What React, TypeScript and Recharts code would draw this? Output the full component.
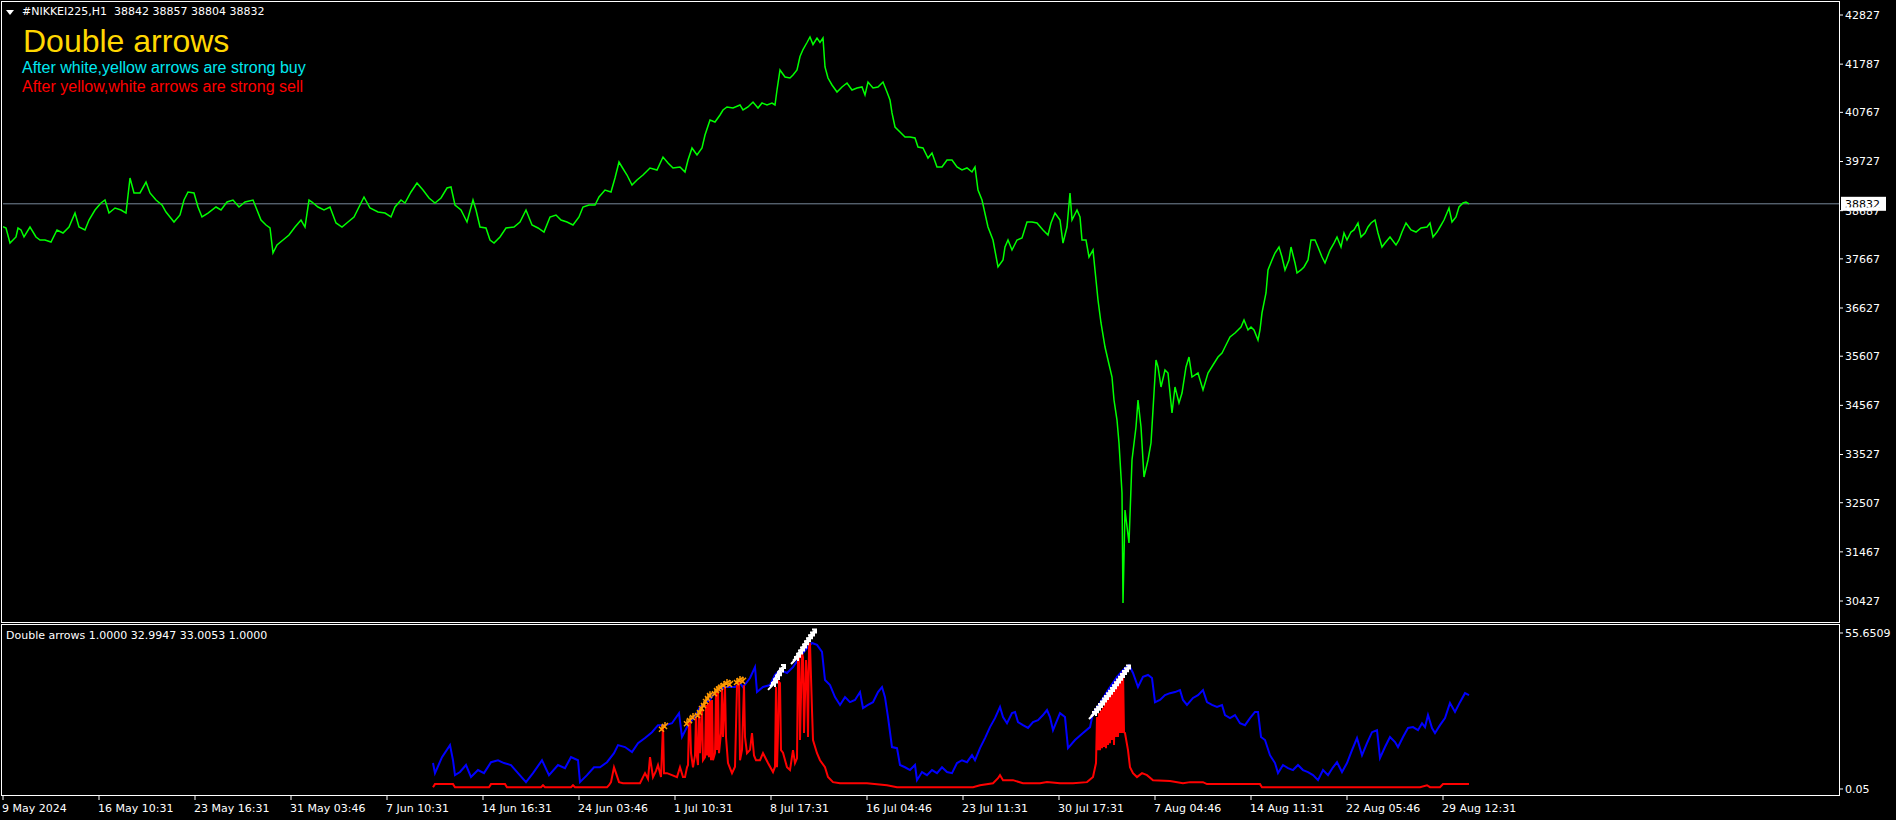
import React from 'react';
import { ComposedChart, LineChart, Line, Scatter, XAxis, YAxis, ReferenceLine } from 'recharts';

// bar index (H1) of each date label on the bottom axis
const dateTicks = [0, 96, 192, 288, 384, 480, 576, 672, 768, 864, 960, 1056, 1152, 1248, 1344, 1440];
const dateLabels = [
  '9 May 2024', '16 May 10:31', '23 May 16:31', '31 May 03:46', '7 Jun 10:31', '14 Jun 16:31',
  '24 Jun 03:46', '1 Jul 10:31', '8 Jul 17:31', '16 Jul 04:46', '23 Jul 11:31', '30 Jul 17:31',
  '7 Aug 04:46', '14 Aug 11:31', '22 Aug 05:46', '29 Aug 12:31',
];
const priceTicks = [42827, 41787, 40767, 39727, 38687, 37667, 36627, 35607, 34567, 33527, 32507, 31467, 30427];
const lastPrice = 38832;
const indTicks = [0.05, 55.6509];

// close price, [bar, price]
const pricePoints: [number, number][] = [
  [0, 38347], [3, 38320], [7, 38002], [13, 38130], [15, 38320], [18, 38278], [21, 38130], [27, 38341], [33, 38130],
  [37, 38066], [42, 38066], [48, 38024], [54, 38278], [60, 38214], [66, 38341], [72, 38637], [76, 38341], [82, 38278],
  [86, 38489], [92, 38701], [98, 38849], [102, 38912], [106, 38637], [112, 38743], [118, 38701], [123, 38637],
  [127, 39378], [131, 39061], [137, 39061], [143, 39293], [147, 39061], [153, 38912], [159, 38807], [163, 38658],
  [171, 38447], [177, 38595], [181, 38912], [185, 39082], [191, 39061], [195, 38764], [199, 38553], [205, 38637],
  [213, 38764], [218, 38701], [224, 38870], [230, 38912], [236, 38764], [242, 38870], [250, 38912], [254, 38701],
  [258, 38489], [263, 38383], [267, 38320], [270, 37791], [274, 37960], [280, 38066], [286, 38172], [292, 38341],
  [298, 38489], [302, 38341], [306, 38912], [309, 38870], [315, 38764], [321, 38701], [327, 38764], [333, 38426],
  [339, 38341], [345, 38447], [351, 38553], [357, 38807], [361, 38976], [367, 38743], [375, 38658], [382, 38637],
  [388, 38553], [392, 38764], [398, 38912], [402, 38849], [408, 39082], [414, 39272], [420, 39124], [426, 38955],
  [432, 38849], [438, 38955], [444, 39166], [448, 39187], [452, 38807], [458, 38701], [464, 38447], [470, 38912],
  [473, 38701], [477, 38341], [483, 38320], [487, 38066], [491, 38002], [497, 38130], [503, 38320], [511, 38341],
  [517, 38447], [523, 38701], [529, 38383], [535, 38320], [541, 38235], [547, 38553], [553, 38595], [558, 38489],
  [564, 38447], [570, 38383], [576, 38553], [580, 38764], [586, 38807], [592, 38807], [596, 38976], [602, 39124],
  [608, 39082], [612, 39378], [616, 39716], [619, 39611], [624, 39441], [629, 39230], [634, 39336], [640, 39441],
  [647, 39590], [654, 39547], [660, 39822], [665, 39695], [670, 39590], [677, 39611], [682, 39505], [685, 39758],
  [689, 40013], [694, 39865], [699, 40013], [702, 40288], [707, 40605], [712, 40563], [717, 40711], [720, 40817],
  [724, 40880], [730, 40859], [737, 40923], [740, 40817], [745, 40880], [750, 40986], [755, 40859], [759, 40965],
  [764, 40923], [769, 40965], [772, 40923], [774, 41240], [777, 41664], [782, 41515], [787, 41494], [790, 41557],
  [794, 41664], [797, 41949], [800, 42097], [804, 42245], [807, 42362], [810, 42203], [814, 42340], [817, 42245],
  [820, 42340], [822, 41727], [825, 41494], [829, 41346], [834, 41198], [839, 41304], [844, 41388], [849, 41240],
  [854, 41283], [859, 41304], [862, 41134], [865, 41409], [870, 41283], [875, 41304], [880, 41409], [884, 41198],
  [887, 41028], [889, 40754], [892, 40457], [897, 40351], [902, 40246], [907, 40246], [912, 40224], [915, 40034],
  [920, 40013], [925, 39801], [929, 39907], [934, 39611], [939, 39611], [944, 39758], [949, 39758], [954, 39611],
  [959, 39547], [964, 39590], [969, 39505], [972, 39611], [975, 39124], [979, 38912], [985, 38341], [990, 38066],
  [995, 37495], [1000, 37643], [1002, 37918], [1005, 38066], [1009, 37854], [1014, 38066], [1019, 38108],
  [1024, 38447], [1029, 38447], [1034, 38426], [1040, 38278], [1045, 38172], [1048, 38426], [1052, 38637],
  [1057, 38489], [1060, 38002], [1064, 38341], [1067, 39061], [1069, 38489], [1074, 38701], [1077, 38553],
  [1079, 38066], [1083, 38066], [1086, 37706], [1090, 37854], [1093, 37220], [1095, 36797], [1098, 36310],
  [1102, 35802], [1105, 35527], [1109, 35167], [1111, 34680], [1114, 34257], [1116, 33770], [1119, 32712],
  [1120, 30384], [1122, 32352], [1126, 31654], [1129, 33411], [1133, 34109], [1135, 34680], [1138, 34109],
  [1141, 33051], [1145, 33411], [1148, 33770], [1151, 34828], [1153, 35527], [1155, 35379], [1158, 34956],
  [1162, 35315], [1165, 35252], [1169, 34405], [1172, 34956], [1176, 34617], [1179, 34828], [1183, 35379],
  [1186, 35590], [1189, 35167], [1195, 35252], [1200, 34893], [1205, 35252], [1210, 35421], [1215, 35590],
  [1219, 35675], [1222, 35802], [1227, 36014], [1232, 36098], [1238, 36225], [1241, 36374], [1245, 36162],
  [1248, 36225], [1251, 36162], [1255, 35950], [1257, 36162], [1259, 36522], [1263, 36945], [1265, 37432],
  [1269, 37643], [1272, 37791], [1276, 37918], [1279, 37706], [1282, 37432], [1286, 37643], [1288, 37918],
  [1292, 37580], [1294, 37368], [1298, 37432], [1301, 37495], [1305, 37643], [1308, 38066], [1312, 38066],
  [1315, 37918], [1319, 37706], [1322, 37580], [1327, 37854], [1331, 38002], [1334, 38130], [1338, 37918],
  [1341, 38214], [1344, 38066], [1348, 38235], [1351, 38278], [1355, 38426], [1358, 38130], [1362, 38214],
  [1365, 38341], [1368, 38426], [1372, 38489], [1375, 38214], [1379, 37918], [1382, 38002], [1387, 38130],
  [1393, 37960], [1396, 38066], [1399, 38235], [1403, 38426], [1408, 38278], [1413, 38235], [1418, 38320],
  [1424, 38341], [1427, 38426], [1430, 38130], [1434, 38235], [1437, 38341], [1441, 38489], [1446, 38743],
  [1449, 38447], [1453, 38553], [1456, 38764], [1460, 38849], [1463, 38870], [1466, 38832],
];

// indicator, blue line [bar, value]
const bluePoints: [number, number][] = [
  [430, 9.3], [432, 5.7], [439, 11.4], [447, 15.7], [450, 10.3], [452, 5.0], [457, 6.1], [463, 8.6], [468, 4.3],
  [475, 6.8], [481, 5.7], [488, 9.6], [495, 10.3], [501, 9.3], [508, 8.6], [515, 5.7], [523, 2.5], [530, 5.7],
  [539, 10.3], [546, 5.0], [555, 8.6], [562, 7.5], [568, 11.4], [575, 10.3], [577, 2.5], [584, 5.0], [591, 7.8],
  [597, 7.8], [604, 9.6], [611, 12.8], [615, 15.7], [622, 15.0], [629, 13.2], [635, 16.4], [642, 18.2], [649, 20.3],
  [655, 22.8], [662, 22.8], [669, 23.5], [676, 27.1], [679, 18.6], [684, 22.1], [689, 24.6], [694, 27.1], [697, 29.3],
  [702, 30.7], [707, 31.8], [712, 34.6], [717, 35.3], [722, 36.4], [727, 36.4], [732, 36.4], [737, 37.8], [740, 36.4],
  [747, 39.6], [752, 43.5], [754, 34.6], [760, 36.4], [767, 37.1], [772, 40.7], [777, 42.5], [784, 41.4], [790, 43.5],
  [797, 47.1], [804, 50.3], [809, 52.1], [814, 51.4], [819, 48.9], [822, 38.9], [827, 37.1], [832, 32.8], [837, 30.0],
  [842, 32.8], [847, 31.0], [852, 31.8], [857, 34.6], [860, 28.9], [865, 30.0], [870, 31.0], [875, 34.6], [879, 36.4],
  [882, 32.8], [885, 25.7], [889, 15.0], [894, 14.6], [897, 8.6], [902, 7.8], [907, 6.8], [912, 8.6], [914, 3.2],
  [919, 6.1], [924, 5.0], [929, 6.8], [934, 5.7], [939, 7.8], [944, 6.1], [949, 5.7], [954, 9.3], [959, 10.3],
  [964, 9.6], [969, 12.1], [972, 10.3], [977, 14.6], [982, 18.2], [987, 22.1], [992, 25.3], [997, 29.3], [1000, 25.7],
  [1004, 23.5], [1009, 27.1], [1012, 27.5], [1015, 23.9], [1020, 22.8], [1025, 21.8], [1030, 23.9], [1035, 24.6],
  [1040, 26.4], [1044, 28.2], [1047, 25.7], [1050, 21.0], [1057, 27.1], [1062, 25.7], [1065, 14.6], [1072, 17.5],
  [1080, 20.0], [1087, 22.1], [1090, 27.1], [1097, 30.7], [1105, 35.3], [1114, 40.0], [1122, 43.2], [1126, 44.2],
  [1130, 41.4], [1135, 36.4], [1140, 40.0], [1145, 40.7], [1149, 39.6], [1152, 31.0], [1157, 31.8], [1162, 33.5],
  [1167, 34.2], [1172, 34.6], [1177, 35.3], [1180, 31.8], [1184, 30.0], [1190, 32.5], [1195, 33.5], [1200, 35.3],
  [1204, 31.0], [1209, 30.0], [1214, 29.3], [1219, 30.0], [1222, 26.4], [1227, 25.3], [1232, 26.4], [1237, 23.5],
  [1242, 22.8], [1247, 25.3], [1252, 27.5], [1255, 27.5], [1258, 18.6], [1262, 17.5], [1267, 12.1], [1272, 9.3],
  [1275, 5.7], [1280, 8.6], [1285, 7.5], [1290, 6.8], [1295, 8.6], [1300, 6.8], [1305, 6.1], [1310, 5.0], [1315, 3.2],
  [1320, 6.8], [1325, 5.0], [1330, 7.8], [1334, 9.6], [1339, 6.1], [1344, 9.3], [1349, 13.9], [1354, 18.2],
  [1359, 12.1], [1364, 16.4], [1369, 20.3], [1374, 21.0], [1377, 11.1], [1382, 15.0], [1387, 18.6], [1392, 16.8],
  [1395, 15.0], [1400, 18.6], [1405, 21.8], [1410, 22.1], [1415, 21.0], [1419, 23.5], [1422, 22.1], [1425, 26.4],
  [1429, 21.8], [1432, 20.0], [1437, 22.8], [1442, 25.3], [1447, 30.7], [1452, 27.5], [1457, 31.0], [1462, 34.2],
  [1466, 33.5],
];

// indicator, red line with its spikes [bar, value]
const redPoints: [number, number][] = [
  [430, 0.7], [432, 1.8], [450, 1.8], [452, 0.7], [486, 0.7], [488, 1.8], [502, 1.8], [504, 0.7], [538, 0.7],
  [540, 1.4], [542, 0.7], [568, 0.7], [570, 1.4], [572, 0.7], [604, 0.7], [606, 1.4], [608, 2.5], [611, 7.8],
  [613, 5.7], [616, 2.5], [620, 2.1], [637, 2.1], [640, 4.3], [642, 5.7], [645, 3.6], [647, 11.4], [650, 4.3],
  [653, 6.5], [655, 8.6], [658, 4.3], [660, 22.8], [661, 5.7], [664, 5.7], [669, 5.0], [674, 4.3], [677, 7.8],
  [680, 4.3], [682, 4.3], [684, 7.8], [685, 8.6], [686, 23.5], [687, 24.6], [688, 12.8], [690, 7.8], [692, 12.0],
  [693, 25.7], [694, 11.4], [695, 8.6], [696, 27.0], [697, 12.8], [699, 29.3], [700, 10.3], [702, 11.4], [703, 30.0],
  [704, 12.0], [705, 30.7], [706, 11.4], [707, 31.4], [708, 10.3], [709, 31.8], [710, 10.3], [712, 12.8], [713, 34.6],
  [714, 14.0], [715, 35.3], [716, 12.8], [718, 20.0], [719, 35.5], [720, 18.6], [722, 36.4], [723, 18.6], [725, 9.3],
  [729, 5.7], [732, 8.0], [734, 36.8], [736, 37.8], [737, 10.3], [739, 14.0], [741, 37.0], [742, 18.6], [744, 12.8],
  [747, 14.0], [749, 20.0], [751, 12.0], [753, 10.3], [757, 10.3], [760, 12.8], [765, 9.3], [770, 6.1], [772, 8.0],
  [773, 36.4], [774, 7.8], [775, 20.0], [776, 38.2], [777, 37.8], [778, 13.9], [780, 13.0], [784, 7.8], [787, 6.8],
  [790, 13.9], [792, 9.3], [794, 11.0], [795, 46.0], [796, 47.5], [797, 17.5], [799, 48.5], [800, 47.0], [801, 20.0],
  [803, 46.0], [804, 40.0], [805, 18.6], [806, 50.7], [807, 52.0], [808, 40.0], [809, 28.2], [810, 17.5], [814, 12.8],
  [817, 10.3], [822, 7.8], [825, 4.3], [830, 2.5], [837, 2.1], [864, 2.1], [884, 1.4], [894, 0.7], [970, 0.7],
  [977, 1.4], [990, 2.1], [995, 3.9], [997, 5.0], [1000, 3.2], [1004, 3.2], [1010, 3.2], [1020, 2.1], [1037, 2.1],
  [1044, 2.5], [1057, 2.1], [1070, 2.1], [1084, 2.5], [1090, 4.3], [1093, 9.3], [1094, 25.7], [1095, 13.9],
  [1096, 27.1], [1097, 13.9], [1098, 28.2], [1099, 14.6], [1100, 29.3], [1101, 15.0], [1102, 31.0], [1103, 14.6],
  [1104, 32.5], [1105, 15.7], [1106, 34.2], [1107, 16.4], [1108, 35.3], [1109, 17.5], [1110, 36.4], [1111, 15.7],
  [1112, 37.8], [1113, 18.6], [1114, 39.2], [1115, 18.6], [1116, 40.0], [1117, 20.0], [1118, 41.4], [1119, 20.0],
  [1120, 42.5], [1121, 20.3], [1122, 20.0], [1125, 13.9], [1127, 7.8], [1130, 5.7], [1134, 4.3], [1139, 5.7],
  [1144, 5.0], [1150, 3.2], [1167, 2.9], [1180, 2.1], [1187, 2.5], [1200, 2.5], [1204, 1.8], [1257, 1.8],
  [1259, 0.7], [1417, 0.7], [1424, 1.4], [1427, 0.7], [1437, 0.7], [1440, 1.8], [1466, 1.8],
];

const whiteArrowPoints: [number, number][] = [
  [769, 36.8], [771, 38.0], [773, 39.3], [775, 40.6], [777, 41.9], [779, 43.2],
  [792, 46.0], [794, 47.2], [796, 48.3], [798, 49.4], [800, 50.5], [802, 51.6], [804, 52.7], [806, 53.8], [808, 54.8],
  [810, 55.8],
  [1090, 26.4], [1092, 27.4], [1094, 28.3], [1096, 29.3], [1098, 30.2], [1100, 31.2], [1102, 32.1], [1104, 33.1],
  [1106, 34.0], [1108, 35.0], [1110, 36.0], [1112, 37.0], [1114, 38.0], [1116, 39.0], [1118, 40.0], [1120, 41.0],
  [1122, 42.0], [1124, 43.0],
];

const orangeArrowPoints: [number, number][] = [
  [659, 21.5], [662, 22.5], [684, 23.5], [687, 24.6], [690, 25.7], [695, 26.4], [697, 27.5], [699, 28.9], [701, 30.0],
  [703, 31.4], [705, 32.5], [707, 33.5], [712, 34.2], [714, 35.3], [716, 35.9], [718, 36.4], [721, 37.1], [724, 37.8],
  [727, 37.5], [734, 38.2], [737, 38.9], [740, 38.6],
];

const toRows = (pts: [number, number][]) => pts.map(([t, v]) => ({ t, v }));
const priceData = toRows(pricePoints);
const blueData = toRows(bluePoints);
const redData = toRows(redPoints);
const whiteData = toRows(whiteArrowPoints);
const orangeData = toRows(orangeArrowPoints);

const FONT = 'DejaVu Sans';

const PriceTag = (props: any) => {
  const vb = props.viewBox || {};
  const x = vb.x + vb.width + 2;
  const y = vb.y;
  return (
    <g>
      <rect x={x} y={y - 7} width={45} height={14} fill="#fff" />
      <text x={x + 4} y={y + 4} fill="#000" fontSize={11} fontFamily={FONT}>{lastPrice}</text>
    </g>
  );
};

const DateTick = (props: any) => {
  const { x, y, payload } = props;
  const i = dateTicks.indexOf(payload.value);
  return (
    <text x={x - 1} y={y + 10} fill="#fff" fontSize={11} fontFamily={FONT} textAnchor="start">
      {dateLabels[i]}
    </text>
  );
};

const IndTick = (props: any) => {
  const { x, y, payload } = props;
  return (
    <text x={x} y={y + 4} fill="#fff" fontSize={11} fontFamily={FONT} textAnchor="start">
      {payload.value === 0.05 ? '0.05' : payload.value.toFixed(4)}
    </text>
  );
};

const WhiteArrow = (p: any) => {
  const { cx, cy } = p;
  return (
    <path
      d={`M${cx - 4},${cy + 4} L${cx + 3},${cy - 3} M${cx - 1},${cy - 3} L${cx + 3},${cy - 3} L${cx + 3},${cy + 1}`}
      stroke="#ffffff" strokeWidth={2} fill="none"
    />
  );
};

const OrangeArrow = (p: any) => {
  const { cx, cy } = p;
  return (
    <path
      d={`M${cx - 3},${cy + 3} L${cx + 3},${cy - 3} M${cx - 3},${cy - 2} L${cx + 2},${cy + 3} M${cx},${cy - 4} L${cx},${cy + 2}`}
      stroke="#ff9900" strokeWidth={1.5} fill="none"
    />
  );
};

const abs = (s: React.CSSProperties): React.CSSProperties => ({ position: 'absolute', ...s });

export default function App() {
  return (
    <div style={abs({ left: 0, top: 0, width: 1896, height: 820, background: '#000', overflow: 'hidden' })}>
      <div style={abs({ left: 0, top: 0 })}>
        <LineChart width={1896} height={625} margin={{ top: 3, right: 0, bottom: 3, left: 3 }}>
          <XAxis type="number" dataKey="t" domain={[0, 1836]} hide allowDataOverflow />
          <YAxis
            type="number" orientation="right" width={57} domain={[29983, 43081]} ticks={priceTicks} interval={0}
            allowDataOverflow tickSize={4}
            tick={{ fill: '#fff', fontSize: 11, fontFamily: FONT }}
            tickLine={{ stroke: '#fff' }} axisLine={false}
          />
          <ReferenceLine y={lastPrice} stroke="#778899" label={(p: any) => <PriceTag {...p} />} />
          <Line data={priceData} dataKey="v" type="linear" stroke="#00ff00" strokeWidth={1.5} dot={false}
            isAnimationActive={false} />
        </LineChart>
      </div>

      <div style={abs({ left: 0, top: 622 })}>
        <ComposedChart width={1896} height={198} margin={{ top: 3, right: 0, bottom: 0, left: 3 }}>
          <XAxis
            type="number" dataKey="t" domain={[0, 1836]} ticks={dateTicks} interval={0} height={24}
            allowDataOverflow tickSize={4} tick={<DateTick />} tickLine={{ stroke: '#fff' }} axisLine={false}
          />
          <YAxis
            type="number" orientation="right" width={57} domain={[-2.445, 58.502]} ticks={indTicks} interval={0}
            allowDataOverflow tickSize={4} tick={<IndTick />} tickLine={{ stroke: '#fff' }} axisLine={false}
          />
          <Line data={blueData} dataKey="v" type="linear" stroke="#0000ff" strokeWidth={2} dot={false}
            isAnimationActive={false} />
          <Line data={redData} dataKey="v" type="linear" stroke="#ff0000" strokeWidth={2} dot={false}
            isAnimationActive={false} />
          <Scatter data={orangeData} dataKey="v" shape={OrangeArrow} isAnimationActive={false} />
          <Scatter data={whiteData} dataKey="v" shape={WhiteArrow} isAnimationActive={false} />
        </ComposedChart>
      </div>

      {/* window frames */}
      <div style={abs({ left: 1, top: 1, width: 1839, height: 622, border: '1px solid #fff', boxSizing: 'border-box' })} />
      <div style={abs({ left: 1, top: 624, width: 1839, height: 172, border: '1px solid #fff', boxSizing: 'border-box' })} />

      {/* header */}
      <div style={abs({ left: 6, top: 10, width: 0, height: 0, borderLeft: '4px solid transparent',
        borderRight: '4px solid transparent', borderTop: '5px solid #fff' })} />
      <div style={abs({ left: 22, top: 5, color: '#fff', fontFamily: FONT, fontSize: 11, whiteSpace: 'pre', lineHeight: '13px' })}>
        {'#NIKKEI225,H1  38842 38857 38804 38832'}
      </div>
      <div style={abs({ left: 23, top: 25, color: '#ffd700', fontFamily: 'Liberation Sans', fontSize: 32, lineHeight: '32px', whiteSpace: 'pre' })}>
        Double arrows
      </div>
      <div style={abs({ left: 22, top: 60, color: '#00e8f0', fontFamily: 'Liberation Sans', fontSize: 16, lineHeight: '16px', whiteSpace: 'pre' })}>
        After white,yellow arrows are strong buy
      </div>
      <div style={abs({ left: 22, top: 79, color: '#ff0000', fontFamily: 'Liberation Sans', fontSize: 16, lineHeight: '16px', whiteSpace: 'pre' })}>
        After yellow,white arrows are strong sell
      </div>
      <div style={abs({ left: 6, top: 629, color: '#fff', fontFamily: FONT, fontSize: 11, lineHeight: '13px', whiteSpace: 'pre' })}>
        Double arrows 1.0000 32.9947 33.0053 1.0000
      </div>
    </div>
  );
}
